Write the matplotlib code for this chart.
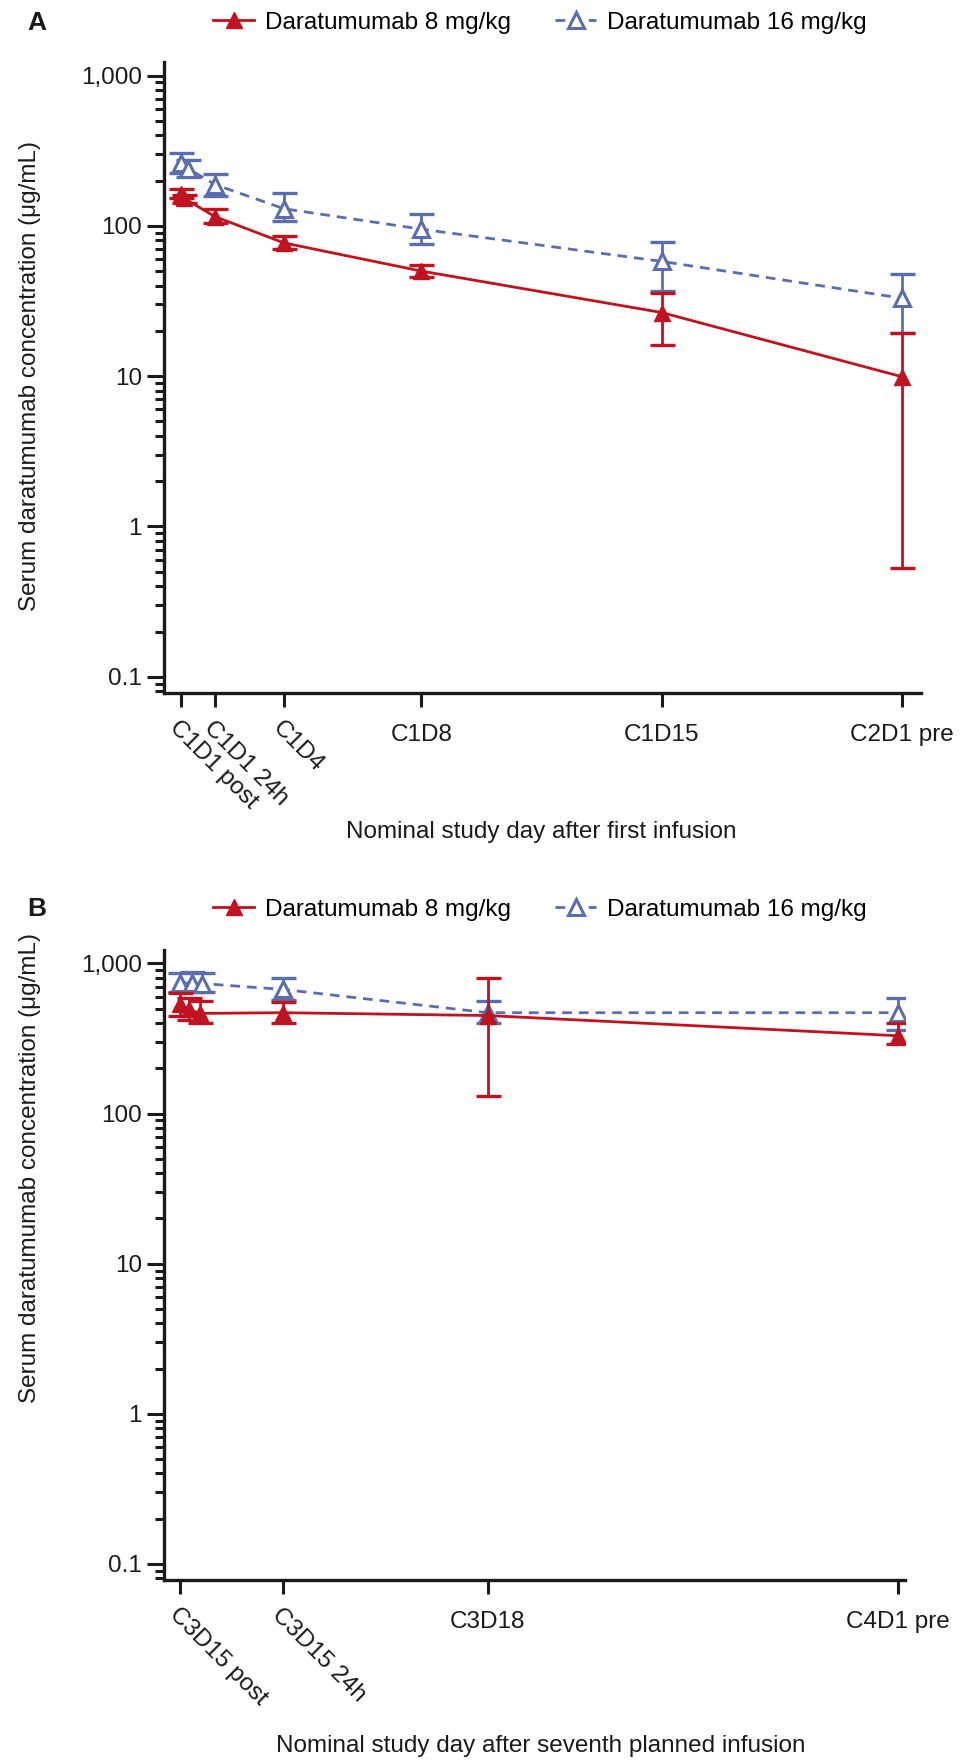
import matplotlib
matplotlib.use("Agg")
import matplotlib.pyplot as plt
from matplotlib.ticker import FixedLocator, NullFormatter, LogLocator

plt.rcParams['font.family'] = ['Liberation Sans', 'DejaVu Sans']

RED = "#C0121F"
BLUE = "#5A6EAE"

# Panel A - after first infusion (nominal study day)
a_ticks = [1, 2, 4, 8, 15, 22]
a_ticklabels = ["C1D1 post", "C1D1 24h", "C1D4", "C1D8", "C1D15", "C2D1 pre"]
a_red_x = [1.0, 1.1, 2, 4, 8, 15, 22]
a_red_y = [164, 152, 115, 77, 50, 26.5, 9.9]
a_red_lo = [152, 142, 104, 70, 46, 16, 0.53]
a_red_hi = [175, 160, 130, 86, 55, 36, 19.5]
a_blue_x = [1.0, 1.22, 2, 4, 8, 15, 22]
a_blue_y = [260, 240, 188, 130, 95, 58, 33]
a_blue_lo = [225, 210, 158, 108, 76, 37, 19.5]
a_blue_hi = [305, 275, 222, 165, 120, 78, 48]

# Panel B - after seventh planned infusion
b_ticks = [15, 16, 18, 22]
b_ticklabels = ["C3D15 post", "C3D15 24h", "C3D18", "C4D1 pre"]
b_red_x = [15.0, 15.08, 15.19, 16, 18, 22]
b_red_y = [535, 495, 465, 470, 450, 330]
b_red_lo = [450, 420, 400, 400, 130, 290]
b_red_hi = [640, 590, 560, 555, 800, 400]
b_blue_x = [15.0, 15.11, 15.21, 16, 18, 22]
b_blue_y = [740, 740, 735, 672, 470, 470]
b_blue_lo = [650, 650, 650, 570, 400, 360]
b_blue_hi = [870, 880, 870, 800, 560, 590]

y_ticks = [0.1, 1, 10, 100, 1000]
y_ticklabels = ["0.1", "1", "10", "100", "1,000"]

W, H = 967, 1762
fig = plt.figure(figsize=(W / 100, H / 100), dpi=100)
axA = fig.add_axes([164 / W, 1 - 693 / H, (921 - 164) / W, (693 - 62) / H])
axB = fig.add_axes([164 / W, 1 - 1580 / H, (905 - 164) / W, (1580 - 950) / H])


def draw_panel(ax, rx, ry, rlo, rhi, bx, by, blo, bhi, ticks, labels, n_rot, xlim):
    berr = [[v - l for v, l in zip(by, blo)], [h - v for v, h in zip(by, bhi)]]
    rerr = [[v - l for v, l in zip(ry, rlo)], [h - v for v, h in zip(ry, rhi)]]
    ax.errorbar(bx, by, yerr=berr, fmt="none", ecolor=BLUE, elinewidth=2,
                capsize=9, capthick=2.4, zorder=2)
    hb, = ax.plot(bx, by, color=BLUE, lw=2, ls=(0, (3.5, 2.5)), marker="^",
                  ms=12, mfc="white", mec=BLUE, mew=2.2, zorder=3)
    ax.errorbar(rx, ry, yerr=rerr, fmt="none", ecolor=RED, elinewidth=2,
                capsize=9, capthick=2.4, zorder=4)
    hr, = ax.plot(rx, ry, color=RED, lw=2, marker="^", ms=12, mfc=RED,
                  mec=RED, zorder=5)

    ax.set_yscale("log")
    ax.set_ylim(0.078, 1230)
    ax.set_xlim(*xlim)
    ax.yaxis.set_major_locator(FixedLocator(y_ticks))
    ax.set_yticklabels(y_ticklabels)
    ax.yaxis.set_minor_locator(LogLocator(base=10, subs=range(2, 10), numticks=20))
    ax.yaxis.set_minor_formatter(NullFormatter())
    ax.set_xticks(ticks)
    ax.set_xticklabels(labels)
    ax.xaxis.set_minor_locator(FixedLocator([]))

    for s in ["top", "right"]:
        ax.spines[s].set_visible(False)
    for s in ["left", "bottom"]:
        ax.spines[s].set_linewidth(2.4)
        ax.spines[s].set_color("#1a1a1a")
    ax.tick_params(axis="y", which="major", length=12, width=2.2, labelsize=17.5,
                   pad=4, colors="#1a1a1a")
    ax.tick_params(axis="y", which="minor", length=6.5, width=2.2, colors="#1a1a1a")
    ax.tick_params(axis="x", which="major", length=10, width=2.2, labelsize=17.5,
                   pad=7, colors="#1a1a1a")

    # rotate the crowded early labels, push the flat ones down a little
    axes_h = ax.get_position().height * H
    for i, tick in enumerate(ax.xaxis.get_major_ticks()):
        t = tick.label1
        if i < n_rot:
            t.set_rotation(-45)
            t.set_ha("left")
            t.set_va("top")
            t.set_rotation_mode("anchor")
        else:
            t.set_y(-7 / axes_h)
    return hr, hb


hrA, hbA = draw_panel(axA, a_red_x, a_red_y, a_red_lo, a_red_hi,
                      a_blue_x, a_blue_y, a_blue_lo, a_blue_hi,
                      a_ticks, a_ticklabels, 3, (0.51, 22.55))
hrB, hbB = draw_panel(axB, b_red_x, b_red_y, b_red_lo, b_red_hi,
                      b_blue_x, b_blue_y, b_blue_lo, b_blue_hi,
                      b_ticks, b_ticklabels, 2, (14.84, 22.07))

# legends, panel letters, axis labels
for hr, hb, ly, letter, ylab_y, xlab_y, xlab in [
    (hrA, hbA, 22.5, "A", 376, 832, "Nominal study day after first infusion"),
    (hrB, hbB, 909.5, "B", 1168, 1746, "Nominal study day after seventh planned infusion"),
]:
    fig.legend([hr, hb], ["Daratumumab 8 mg/kg", "Daratumumab 16 mg/kg"],
               loc="center", bbox_to_anchor=(540 / W, 1 - ly / H), ncol=2,
               frameon=False, fontsize=17.5, handlelength=1.7, handletextpad=0.45,
               columnspacing=1.8, borderpad=0, markerscale=1.0)
    fig.text(37 / W, 1 - ly / H, letter, fontsize=19, fontweight="bold",
             ha="center", va="center", color="#1a1a1a")
    fig.text(30 / W, 1 - ylab_y / H, "Serum daratumumab concentration (\u03bcg/mL)",
             rotation=90, fontsize=17.5, ha="center", va="center", color="#1a1a1a")
    fig.text(541 / W, 1 - xlab_y / H, xlab, fontsize=17.5, ha="center",
             va="center", color="#1a1a1a")

fig.savefig("out.png", dpi=100)
